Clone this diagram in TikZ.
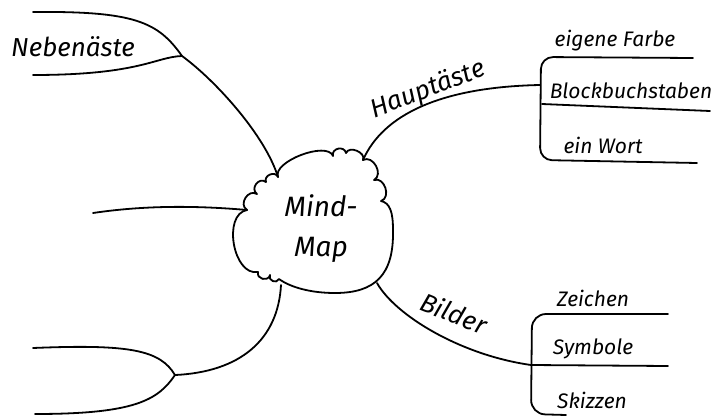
\documentclass[tikz,border=0pt]{standalone}
\usepackage{fontspec}
\setmainfont{Fira Sans}
\usetikzlibrary{calc}
\tikzset{
	ast/.style={line width=1.8pt},
	lobe/.style={to path={.. controls ($(\tikztostart)!#1!90:(\tikztotarget)$) and ($(\tikztotarget)!#1!-90:(\tikztostart)$) .. (\tikztotarget)}},
	gross/.style={font=\fontsize{26}{30}\selectfont\itshape},
	klein/.style={font=\fontsize{21}{25}\selectfont\itshape},
}
\begin{document}
\begin{tikzpicture}[x=1pt, y=-1pt, line join=round, line cap=round]
			\useasboundingbox (0,0) rectangle (717,415);
			
			% Wolke
			\coordinate (k1) at (278,177);
			\coordinate (k2) at (333,156);
			\coordinate (k3) at (346,153);
			\coordinate (k4) at (363,160);
			\coordinate (k5) at (374,180);
			\coordinate (k6) at (381,201);
			\coordinate (k7) at (279,279);
			\coordinate (k8) at (270,275);
			\coordinate (k9) at (258,272);
			\coordinate (k10) at (247,210);
			\coordinate (k11) at (257,194);
			\coordinate (k12) at (266,182);
			\draw[ast] (k1) to[lobe=0.28] (k2) to[lobe=0.6] (k3) to[lobe=0.45] (k4)
				to[lobe=0.5] (k5) to[lobe=0.5] (k6)
				.. controls (390,203) and (393,212) .. (393,230)
				.. controls (394,275) and (375,293) .. (335,293)
				.. controls (310,293) and (290,287) .. (k7)
				to[lobe=0.6] (k8) to[lobe=0.6] (k9) to[lobe=0.4] (k10)
				to[lobe=0.55] (k11) to[lobe=0.6] (k12) to[lobe=0.55] (k1) -- cycle;
			\node[gross, align=center, font=\fontsize{28}{40}\selectfont\itshape] (mind) at (321,229) {Mind-\\Map};
			
			% Nebenaeste
			\coordinate (nf) at (182,56);
			\coordinate (n1) at (33,12);
			\coordinate (n2) at (33,75);
			\coordinate (m1) at (93,213);
			\coordinate (b0) at (281,285);
			\coordinate (bf) at (175,375);
			\coordinate (b1) at (33,348);
			\coordinate (b2) at (35,414);
			\draw[ast] (k1) .. controls (265,135) and (215,80) .. (nf);
			\draw[ast] (nf) .. controls (158,22) and (135,11) .. (n1);
			\draw[ast] (nf) .. controls (155,57) and (140,75) .. (n2);
			\draw[ast] (k10) .. controls (190,205) and (140,206) .. (m1);
			\draw[ast] (b0) .. controls (278,340) and (240,372) .. (bf);
			\draw[ast] (bf) .. controls (160,350) and (130,344) .. (b1);
			\draw[ast] (bf) .. controls (158,400) and (135,414) .. (b2);
			\node[gross] (neben) at (73,47) {Nebenäste};
			
			% Hauptaeste
			\coordinate (hb) at (540,85);
			\coordinate (h1) at (693,58);
			\coordinate (h2) at (542,104);
			\coordinate (h3) at (710,111);
			\coordinate (h4) at (697,163);
			\draw[ast] (k4) .. controls (383,115) and (440,87) .. (hb);
			\draw[ast, rounded corners=12pt] (h1) -- (541,57) -- (540,160) -- (h4);
			\draw[ast] (h2) -- (h3);
			\node[gross, rotate=21] (haupt) at (428,90) {Hauptäste};
			\node[klein] (farbe) at (615,41) {eigene Farbe};
			\node[klein] (block) at (631,91) {Blockbuchstaben};
			\node[klein] (wort) at (603,145) {ein Wort};
			
			% Bilder
			\coordinate (bl0) at (377,283);
			\coordinate (bb) at (531,365);
			\coordinate (z1) at (668,314);
			\coordinate (z2) at (668,366);
			\coordinate (z3) at (566,415);
			\draw[ast] (bl0) .. controls (395,315) and (460,355) .. (bb);
			\draw[ast, rounded corners=14pt] (z1) -- (532,314) -- (531,414) -- (z3);
			\draw[ast] (bb) -- (z2);
			\node[gross, rotate=-22] (bilder) at (454,313) {Bilder};
			\node[klein] (zeichen) at (593,298) {Zeichen};
			\node[klein] (symbole) at (593,349) {Symbole};
			\node[klein] (skizzen) at (592,400) {Skizzen};
\end{tikzpicture}
\end{document}
